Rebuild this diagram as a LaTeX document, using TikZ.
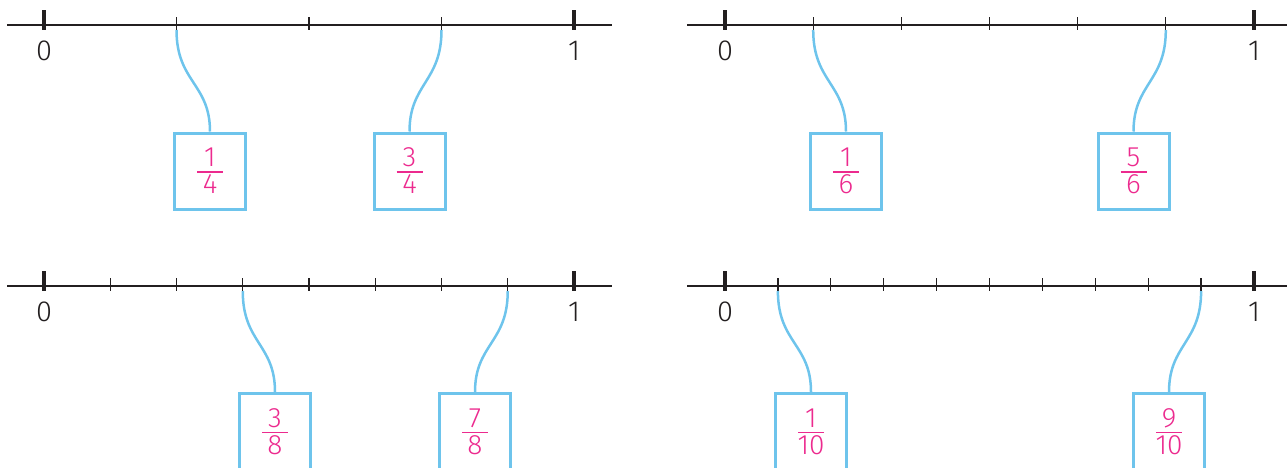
\documentclass[tikz,border=0pt]{standalone}
\usepackage{fontspec}
\newfontfamily\lightf{Fira Sans Light}
\newfontfamily\labelf{Fira Sans}
\usetikzlibrary{calc}
\definecolor{axis}{HTML}{231F20}
\definecolor{sky}{HTML}{6EC4EC}
\definecolor{pinkt}{HTML}{EC2A8E}
\tikzset{
  axisline/.style={draw=axis,line width=2.2pt},
  majortick/.style={draw=axis,line width=3.5pt},
  minortick/.style={draw=axis,line width=1.3pt},
  lbl/.style={font=\fontsize{29}{29}\selectfont\lightf,text=axis,inner sep=0pt},
  fracbox/.style={draw=sky,line width=3pt,minimum width=71pt,minimum height=76pt,
    inner sep=0pt,anchor=north,text=pinkt,align=center,
    font=\fontsize{28}{28}\selectfont\lightf},
  lead/.style={draw=sky,line width=2.5pt},
}
\newcommand\fr[2]{#1\\[-22pt]{\color{pinkt}\rule{26pt}{1.6pt}}\\[-7pt]#2}
% \numline{name}{x0}{x1}{y}{xl}{xr}{n}
\newcommand\numline[7]{%
  \draw[axisline] (#2,#4) -- (#3,#4);
  \draw[majortick] (#5,#4-15) -- (#5,#4+5);
  \draw[majortick] (#6,#4-15) -- (#6,#4+5);
  \pgfmathsetmacro\nm{#7-1}
  \foreach \i in {1,...,\nm}{
    \draw[minortick] ({#5+\i*(#6-#5)/#7},#4-8) -- ({#5+\i*(#6-#5)/#7},#4+5);
  }
  \node[lbl] (#1zero) at (#5,#4+26) {0};
  \node[lbl] (#1one) at (#6,#4+26) {1};
}
\begin{document}
\begin{tikzpicture}[x=1pt,y=-1pt]
\useasboundingbox (0,0) rectangle (1287,467);
\clip (0,0) rectangle (1287,467);
% number lines
\numline{A}{7}{612}{25}{44}{574}{4}
\numline{B}{687}{1287}{25}{725}{1254}{6}
\numline{C}{7}{612}{286}{44}{574}{8}
\numline{D}{687}{1287}{286}{725}{1254}{10}
% tick coordinates for the marked fractions
\coordinate (tA1) at (176.5,30);
\coordinate (tA3) at (441.5,30);
\coordinate (tB1) at (813.2,30);
\coordinate (tB5) at (1165.8,30);
\coordinate (tC3) at (242.75,291);
\coordinate (tC7) at (507.75,291);
\coordinate (tD1) at (777.9,291);
\coordinate (tD9) at (1201.1,291);
% boxes
\node[fracbox] (bA1) at (210,131.5) {\fr{1}{4}};
\node[fracbox] (bA3) at (409.5,131.5) {\fr{3}{4}};
\node[fracbox] (bB1) at (846,131.5) {\fr{1}{6}};
\node[fracbox] (bB5) at (1133.5,131.5) {\fr{5}{6}};
\node[fracbox] (bC3) at (275,392) {\fr{3}{8}};
\node[fracbox] (bC7) at (475,392) {\fr{7}{8}};
\node[fracbox] (bD1) at (811,392) {\fr{1}{10}};
\node[fracbox] (bD9) at (1169,392) {\fr{9}{10}};
% leaders
\foreach \n in {A1,A3,B1,B5,C3,C7,D1,D9}{
  \draw[lead] (t\n) .. controls ($(t\n)+(0,52)$) and ($(b\n.north)+(0,-48)$) .. (b\n.north);
}
\end{tikzpicture}
\end{document}
